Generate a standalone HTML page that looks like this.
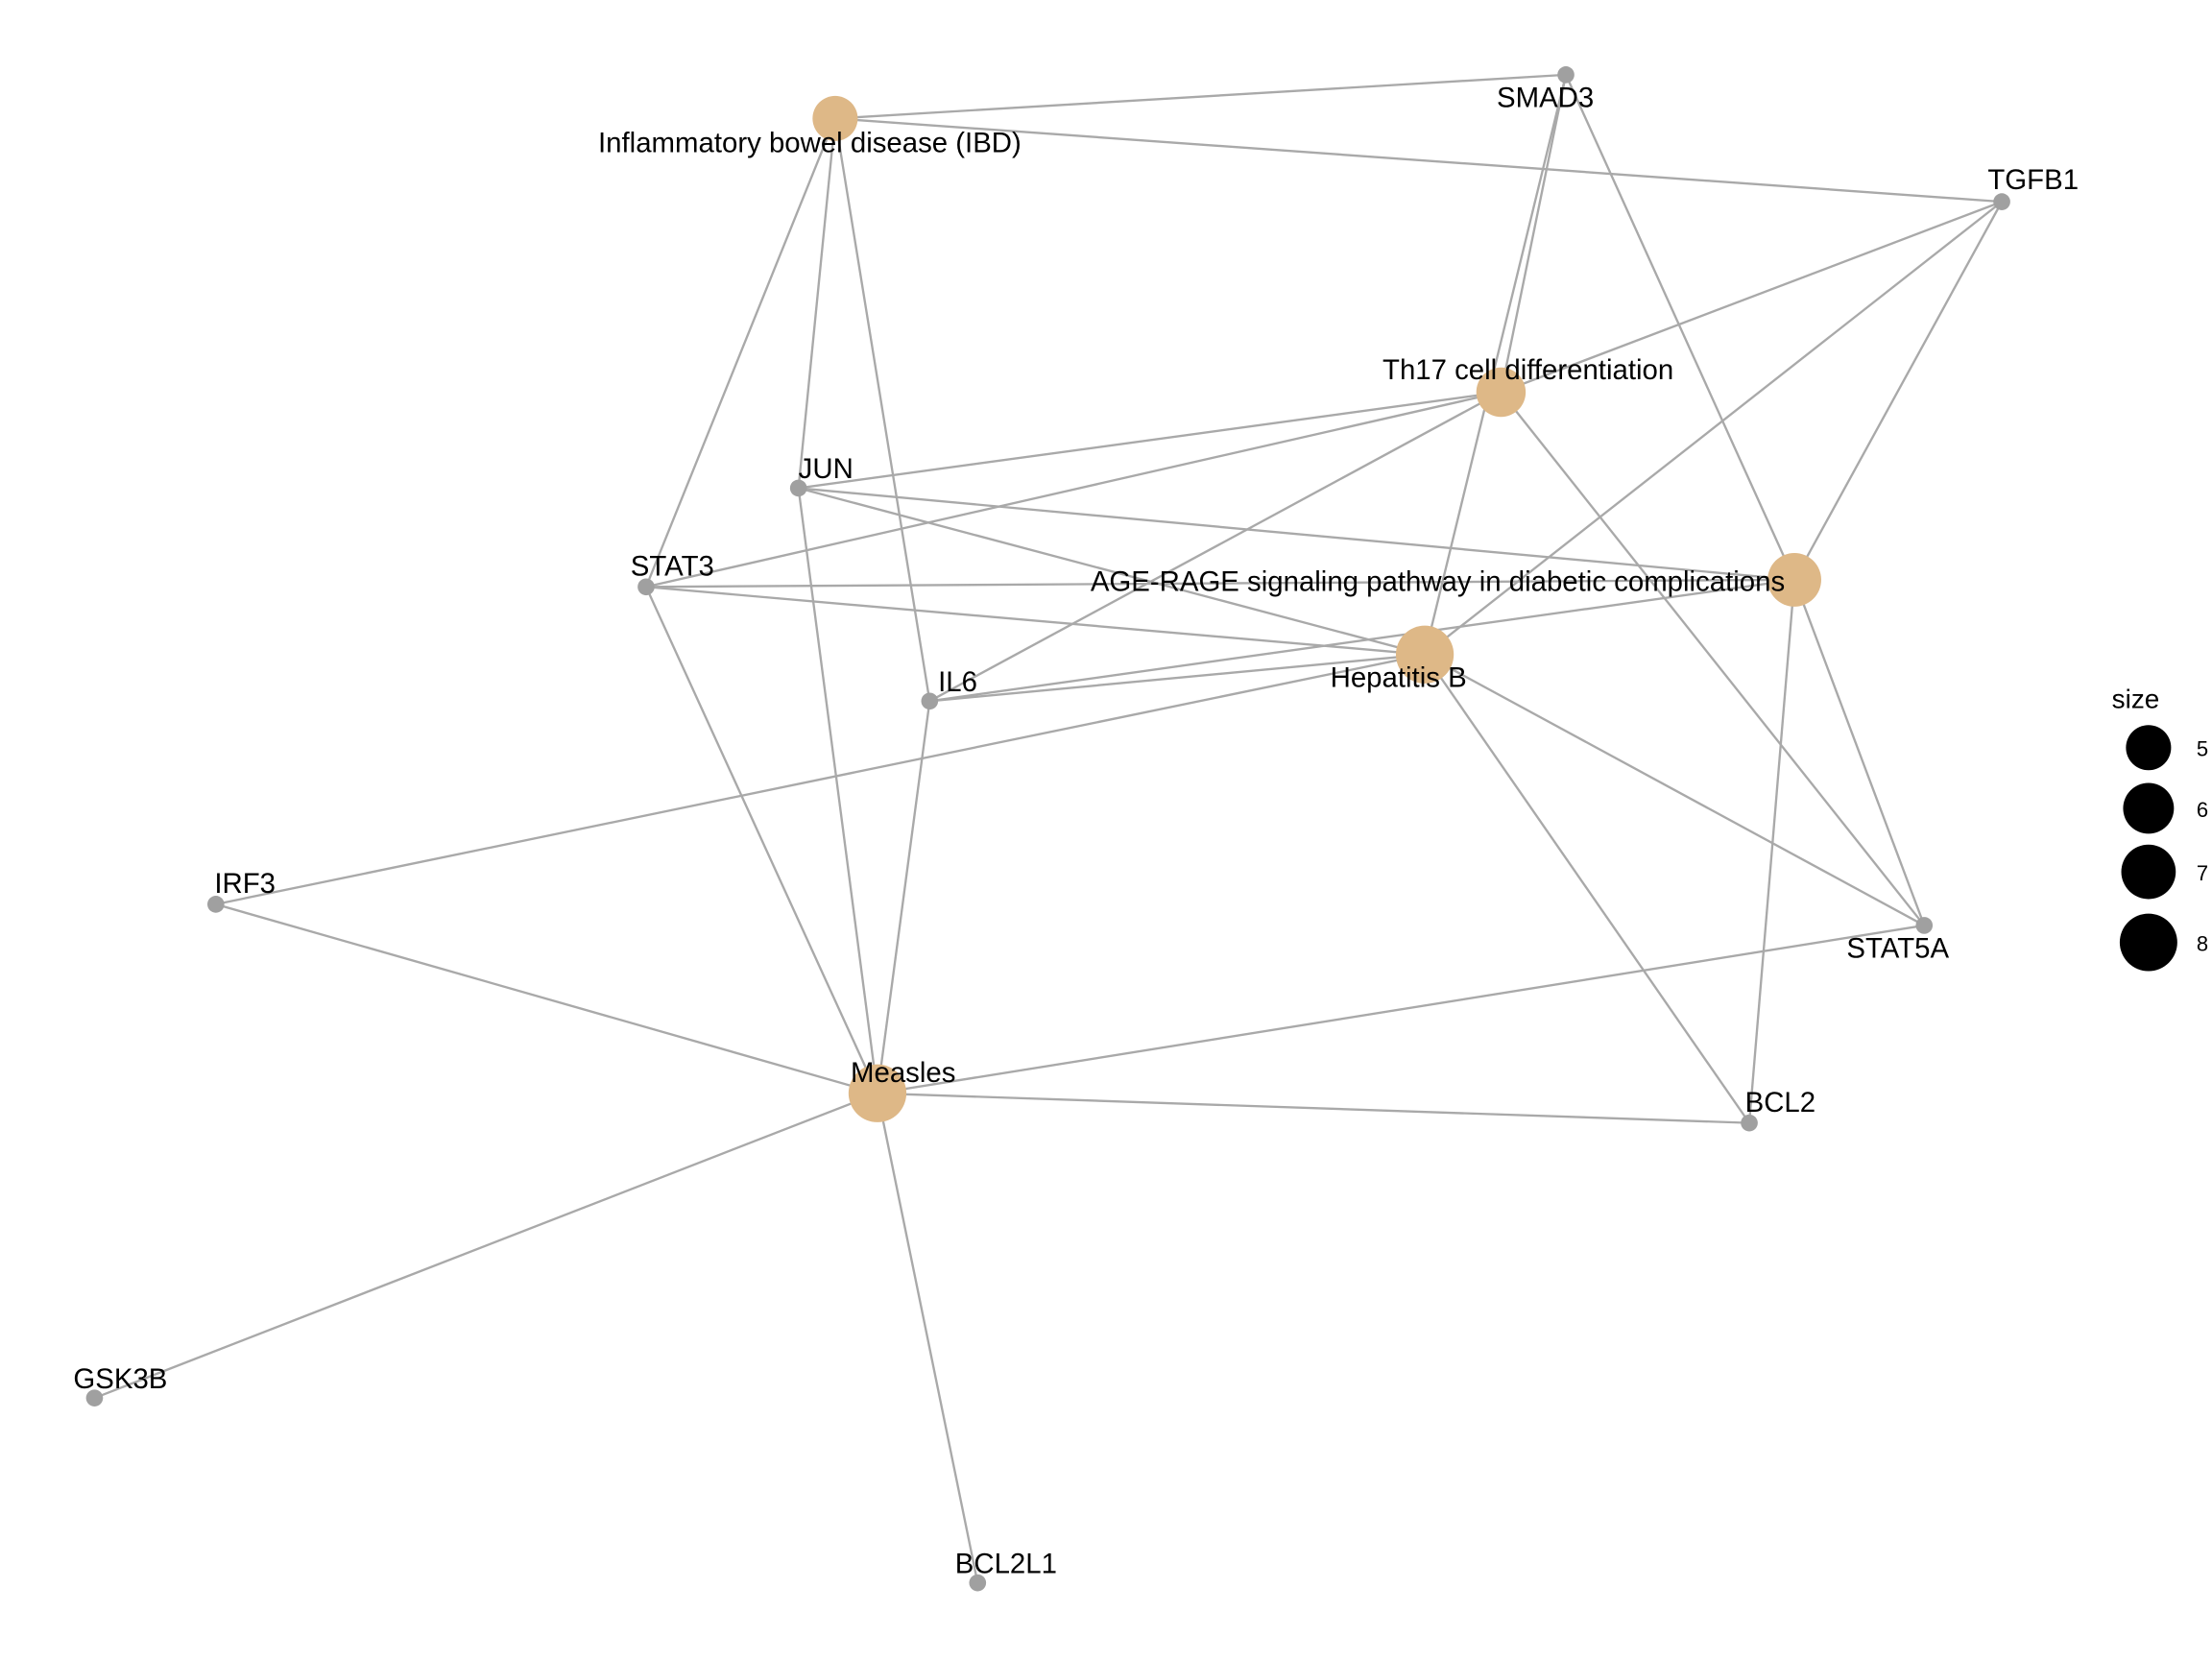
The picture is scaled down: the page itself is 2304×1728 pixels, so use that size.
<!DOCTYPE html>
<html><head><meta charset="utf-8"><style>
html,body{margin:0;padding:0;background:#fff;}
svg{display:block;}
text{font-family:"Liberation Sans",Arial,sans-serif;font-size:20px;fill:#000;}
</style></head><body>
<svg width="2304" height="1728" viewBox="0 0 1568 1176" xmlns="http://www.w3.org/2000/svg">
<rect width="1568" height="1176" fill="#fff"/>
<g stroke="#A9A9A9" stroke-width="1.6" fill="none">
<line x1="592" y1="84" x2="1110" y2="53"/>
<line x1="592" y1="84" x2="1419" y2="143"/>
<line x1="592" y1="84" x2="458" y2="416"/>
<line x1="592" y1="84" x2="566" y2="346"/>
<line x1="592" y1="84" x2="659" y2="497"/>
<line x1="1110" y1="53" x2="1064" y2="278"/>
<line x1="1110" y1="53" x2="1010" y2="464"/>
<line x1="1110" y1="53" x2="1272" y2="411"/>
<line x1="1419" y1="143" x2="1064" y2="278"/>
<line x1="1419" y1="143" x2="1010" y2="464"/>
<line x1="1419" y1="143" x2="1272" y2="411"/>
<line x1="1064" y1="278" x2="566" y2="346"/>
<line x1="1064" y1="278" x2="458" y2="416"/>
<line x1="1064" y1="278" x2="659" y2="497"/>
<line x1="1064" y1="278" x2="1364" y2="656"/>
<line x1="566" y1="346" x2="1272" y2="411"/>
<line x1="566" y1="346" x2="1010" y2="464"/>
<line x1="566" y1="346" x2="622" y2="775"/>
<line x1="458" y1="416" x2="1272" y2="411"/>
<line x1="458" y1="416" x2="1010" y2="464"/>
<line x1="458" y1="416" x2="622" y2="775"/>
<line x1="659" y1="497" x2="1272" y2="411"/>
<line x1="659" y1="497" x2="1010" y2="464"/>
<line x1="659" y1="497" x2="622" y2="775"/>
<line x1="1010" y1="464" x2="153" y2="641"/>
<line x1="1010" y1="464" x2="1364" y2="656"/>
<line x1="1010" y1="464" x2="1240" y2="796"/>
<line x1="1272" y1="411" x2="1240" y2="796"/>
<line x1="1272" y1="411" x2="1364" y2="656"/>
<line x1="153" y1="641" x2="622" y2="775"/>
<line x1="622" y1="775" x2="1364" y2="656"/>
<line x1="622" y1="775" x2="1240" y2="796"/>
<line x1="622" y1="775" x2="67" y2="991"/>
<line x1="622" y1="775" x2="693" y2="1122"/>
</g>
<g fill="#A0A0A0">
<circle cx="1110" cy="53" r="6"/>
<circle cx="1419" cy="143" r="6"/>
<circle cx="566" cy="346" r="6"/>
<circle cx="458" cy="416" r="6"/>
<circle cx="659" cy="497" r="6"/>
<circle cx="153" cy="641" r="6"/>
<circle cx="1364" cy="656" r="6"/>
<circle cx="1240" cy="796" r="6"/>
<circle cx="67" cy="991" r="6"/>
<circle cx="693" cy="1122" r="6"/>
</g>
<g fill="#DEB887">
<circle cx="592" cy="84" r="16"/>
<circle cx="1064" cy="278" r="17.5"/>
<circle cx="1272" cy="411" r="19"/>
<circle cx="1010" cy="464" r="20.5"/>
<circle cx="622" cy="775" r="20.5"/>
</g>
<text x="424" y="108">Inflammatory bowel disease (IBD)</text>
<text x="1061" y="76">SMAD3</text>
<text x="1409" y="134">TGFB1</text>
<text x="980" y="269">Th17 cell differentiation</text>
<text x="566" y="339">JUN</text>
<text x="447" y="408">STAT3</text>
<text x="773" y="419">AGE-RAGE signaling pathway in diabetic complications</text>
<text x="943" y="487">Hepatitis B</text>
<text x="665" y="490">IL6</text>
<text x="152" y="633">IRF3</text>
<text x="1309" y="679">STAT5A</text>
<text x="603" y="767">Measles</text>
<text x="1237" y="788">BCL2</text>
<text x="52" y="984">GSK3B</text>
<text x="677" y="1115">BCL2L1</text>
<text x="1497" y="502" style="font-size:19px">size</text>
<g fill="#000">
<circle cx="1523" cy="530" r="16"/>
<circle cx="1523" cy="573" r="18"/>
<circle cx="1523" cy="618" r="19.3"/>
<circle cx="1523" cy="668" r="20.4"/>
</g>
<text x="1557" y="536" style="font-size:15px">5</text>
<text x="1557" y="579" style="font-size:15px">6</text>
<text x="1557" y="624" style="font-size:15px">7</text>
<text x="1557" y="674" style="font-size:15px">8</text>
</svg>
</body></html>
